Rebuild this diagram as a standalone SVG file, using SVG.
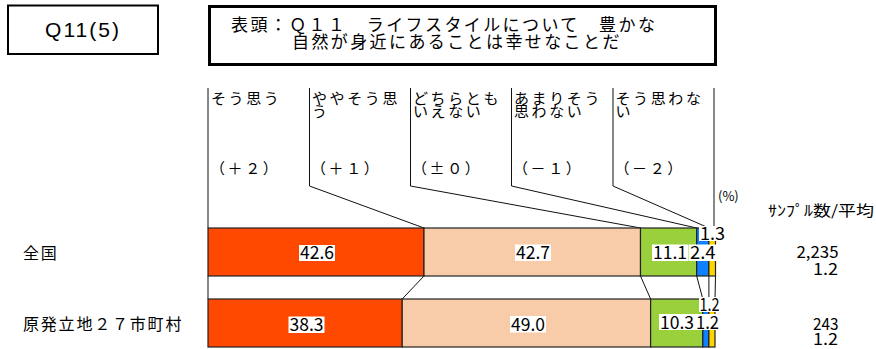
<svg xmlns="http://www.w3.org/2000/svg" width="876" height="349" viewBox="0 0 876 349">
<style>
.jp{font-family:"Noto Sans CJK JP","Noto Sans CJK SC",sans-serif;fill:#000}
.hd{font-size:15px;letter-spacing:2.6px}
.ttl{font-size:17px;letter-spacing:2.4px}
.cat{font-size:16px;letter-spacing:1.8px}
.num{font-size:18px;text-anchor:start}
.rn{font-size:16px}
.seg{stroke:#222;stroke-width:1.2}
.ln{stroke:#111;stroke-width:1;fill:none}
.lb{fill:#fff}
.c1{fill:#FF4800}.c2{fill:#F8CCA8}.c3{fill:#9BD03D}.c4{fill:#0F80FF}.c5{fill:#FFD500}
</style>
<rect width="876" height="349" fill="#fff"/>

<g id="q-box">
<rect x="8" y="5.5" width="150" height="48.5" fill="none" stroke="#000" stroke-width="2"/>
<text x="45" y="37" font-family="'Liberation Sans',Arial,sans-serif" font-size="21" textLength="74">Q11(5)</text>
</g>

<g id="title">
<rect x="209.5" y="6.5" width="506" height="58" fill="none" stroke="#000" stroke-width="3"/>
<text class="jp ttl" x="231" y="31">表頭：Ｑ１１　ライフスタイルについて　豊かな</text>
<text class="jp ttl" x="292" y="48">自然が身近にあることは幸せなことだ</text>
</g>

<g id="connectors">
<path class="ln" d="M208 88V228M309.5 88V186L424 228M410.5 88V186L640.5 228M511.5 88V186L696.7 228M613 88V186L708.9 228M714 88V228"/>
<path class="ln" d="M208 276V299M424 276L402.2 299M640.5 276L650.6 299M696.7 276L702.8 299M708.9 276V299M715.5 276L715 299"/>
</g>

<g id="col-1">
<text class="jp hd" x="211" y="104">そう思う</text>
<text class="jp hd" x="210" y="174">（＋２）</text>
</g>
<g id="col-2">
<text class="jp hd" x="312" y="104">ややそう思<tspan x="312" y="117">う</tspan></text>
<text class="jp hd" x="311" y="174">（＋１）</text>
</g>
<g id="col-3">
<text class="jp hd" x="413" y="104">どちらとも<tspan x="413" y="117">いえない</tspan></text>
<text class="jp hd" x="412" y="174">（±０）</text>
</g>
<g id="col-4">
<text class="jp hd" x="514" y="104">あまりそう<tspan x="514" y="117">思わない</tspan></text>
<text class="jp hd" x="513" y="174">（－１）</text>
</g>
<g id="col-5">
<text class="jp hd" x="615.5" y="104">そう思わな<tspan x="615.5" y="117">い</tspan></text>
<text class="jp hd" x="614.5" y="174">（－２）</text>
</g>

<g id="unit">
<text class="jp" x="718" y="201" font-size="13">(%)</text>
<text class="jp" x="768" y="216" font-size="15" textLength="106" lengthAdjust="spacingAndGlyphs">ｻﾝﾌﾟﾙ数/平均</text>
</g>

<g id="row-zenkoku">
<text class="jp cat" x="23" y="259">全国</text>
<rect class="seg c1" x="208" y="228" width="216" height="48"/>
<rect class="seg c2" x="424" y="228" width="216.5" height="48"/>
<rect class="seg c3" x="640.5" y="228" width="56.2" height="48"/>
<rect class="seg c4" x="696.7" y="228" width="12.2" height="48"/>
<rect class="seg c5" x="708.9" y="228" width="6.6" height="48"/>
<rect class="lb" x="299" y="245" width="36" height="16"/>
<text class="jp num" x="300" y="259" textLength="34" lengthAdjust="spacingAndGlyphs">42.6</text>
<rect class="lb" x="515" y="244.5" width="36" height="16.5"/>
<text class="jp num" x="516" y="259" textLength="34" lengthAdjust="spacingAndGlyphs">42.7</text>
<rect class="lb" x="652" y="244.5" width="36.5" height="16.5"/>
<text class="jp num" x="653" y="259" textLength="34" lengthAdjust="spacingAndGlyphs">11.1</text>
<rect class="lb" x="689" y="244.5" width="28" height="16.5"/>
<text class="jp num" x="690" y="259" textLength="25.5" lengthAdjust="spacingAndGlyphs">2.4</text>
<rect class="lb" x="699" y="226" width="26" height="15"/>
<text class="jp num" x="700" y="240" textLength="25" lengthAdjust="spacingAndGlyphs">1.3</text>
<text class="jp rn" x="796.5" y="258" textLength="42" lengthAdjust="spacingAndGlyphs">2,235</text>
<text class="jp rn" x="813" y="275" textLength="25" lengthAdjust="spacingAndGlyphs">1.2</text>
</g>

<g id="row-genpatsu">
<text class="jp cat" x="23" y="329.5">原発立地２７市町村</text>
<rect class="seg c1" x="208" y="299" width="194.2" height="48"/>
<rect class="seg c2" x="402.2" y="299" width="248.4" height="48"/>
<rect class="seg c3" x="650.6" y="299" width="52.2" height="48"/>
<rect class="seg c4" x="702.8" y="299" width="6.1" height="48"/>
<rect class="seg c5" x="708.9" y="299" width="6.1" height="48"/>
<rect class="lb" x="288.5" y="316.5" width="36" height="16.5"/>
<text class="jp num" x="289.5" y="331" textLength="34" lengthAdjust="spacingAndGlyphs">38.3</text>
<rect class="lb" x="510" y="316" width="36" height="16.5"/>
<text class="jp num" x="511" y="330.5" textLength="34" lengthAdjust="spacingAndGlyphs">49.0</text>
<rect class="lb" x="659" y="314" width="37" height="16"/>
<text class="jp num" x="660" y="328.5" textLength="34" lengthAdjust="spacingAndGlyphs">10.3</text>
<rect class="lb" x="696" y="314" width="23" height="16"/>
<text class="jp num" x="696" y="328.5" textLength="23" lengthAdjust="spacingAndGlyphs">1.2</text>
<rect class="lb" x="699" y="297" width="21" height="15"/>
<text class="jp num" x="699.5" y="311" textLength="20" lengthAdjust="spacingAndGlyphs">1.2</text>
<text class="jp rn" x="813" y="330" textLength="25.5" lengthAdjust="spacingAndGlyphs">243</text>
<text class="jp rn" x="813" y="345" font-size="15" textLength="25" lengthAdjust="spacingAndGlyphs">1.2</text>
</g>
</svg>
